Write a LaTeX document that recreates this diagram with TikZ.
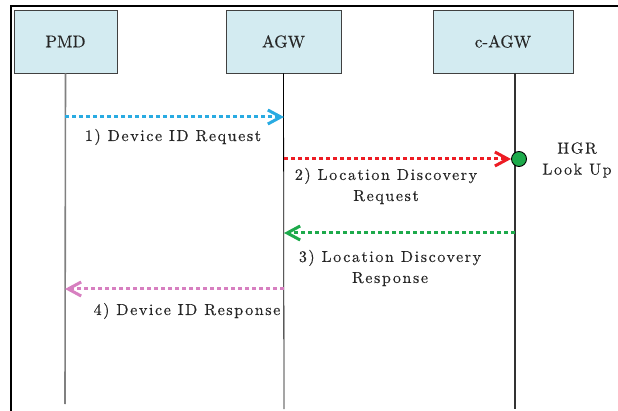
\documentclass[tikz,border=0pt]{standalone}
\usepackage{fontspec}
\setmainfont{lmroman10-regular}[Extension=.otf, LetterSpace=10, FakeBold=0.25]
\newfontfamily\boxfont{lmroman10-regular}[Extension=.otf, FakeBold=0.25]
\usetikzlibrary{arrows.meta,positioning}
\definecolor{boxblue}{HTML}{D3EBF1}
\definecolor{msgblue}{HTML}{29ABE2}
\definecolor{msgred}{HTML}{ED1C24}
\definecolor{msggreen}{HTML}{1DAA4B}
\definecolor{msgpink}{HTML}{D77FC0}

\tikzset{
    entity/.style={draw=black!75, line width=0.8pt, fill=boxblue, minimum height=63pt,
        inner sep=0pt, font=\boxfont\fontsize{17}{21}\selectfont, text=black!85},
    lifeline/.style={line width=1pt},
    msg/.style={line width=3pt, dash pattern=on 4pt off 3pt,
        -{Straight Barb[length=13pt,width=14pt,line width=3pt]}},
    msglabel/.style={fill=white, inner sep=1pt, align=center,
        font=\fontsize{16}{21}\selectfont, text=black!85}
}

\begin{document}
\begin{tikzpicture}[x=1pt, y=-1pt]
    \useasboundingbox (0,0) rectangle (618,411);
    \draw[line width=2pt] (11,411) -- (11,6) -- (618,6);

    \node[entity, minimum width=103pt] (pmd) at (65.5,41.5) {PMD};
    \node[entity, minimum width=115pt] (agw) at (283.5,41.5) {AGW};
    \node[entity, minimum width=140pt] (cagw) at (503,41.5) {c-AGW};

    \coordinate (pmdend) at (65,404);
    \coordinate (agwend) at (284,409);
    \coordinate (cagwtop) at (515,73);
    \coordinate (cagwend) at (515,409);
    \draw[lifeline, line width=1.6pt, black!50] (pmd.south) -- (pmdend);
    \draw[lifeline, line width=0.8pt] (agw.south) -- (agwend);
    \draw[lifeline, line width=1.6pt, black!80] (cagwtop) -- (cagwend);

    \node[msglabel] (l1) at (173,137) {1) Device ID Request};
    \node[msglabel] (l2) at (386,186) {2) Location Discovery\\Request};
    \node[msglabel, fill=none] (l3) at (390,268) {3) Location Discovery\\Response};
    \node[msglabel] (l4) at (187,311) {4) Device ID Response};
    \node[msglabel, fill=none] (hgrtxt) at (577,160) {HGR\\Look Up};

    \node[circle, draw=black, line width=0.9pt, fill=msggreen, minimum size=15pt,
        inner sep=0pt] (lookup) at (519,159) {};

    \coordinate (m1s) at (65,117);
    \coordinate (m1e) at (284,117);
    \coordinate (m2s) at (284,159);
    \coordinate (m3s) at (515,233);
    \coordinate (m3e) at (284,233);
    \coordinate (m4s) at (284,289);
    \coordinate (m4e) at (65,289);

    \draw[msg, msgblue] (m1s) -- (m1e);
    \draw[msg, msgred] (m2s) -- (lookup.west);
    \draw[msg, msggreen] (m3s) -- (m3e);
    \draw[msg, msgpink] (m4s) -- (m4e);
\end{tikzpicture}
\end{document}
